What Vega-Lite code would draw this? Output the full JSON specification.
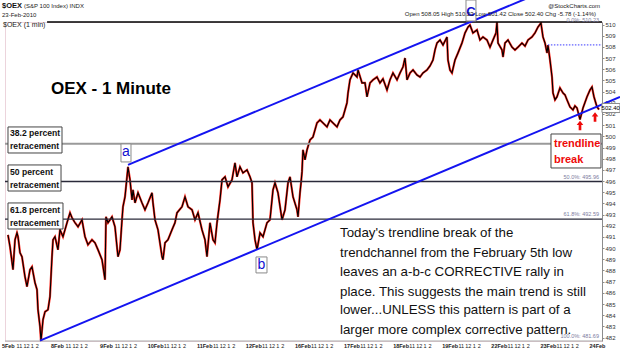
{
  "$schema": "https://vega.github.io/schema/vega-lite/v6.json",
  "width": 597,
  "height": 319,
  "autosize": "none",
  "padding": {"left": 5, "top": 22, "right": 18, "bottom": 14},
  "background": "white",
  "config": {"view": {"stroke": "#d9a9b9", "strokeDash": [1, 1]}, "font": "Liberation Sans"},
  "resolve": {"axis": {"x": "independent", "y": "independent"}},
  "datasets": {
    "oex": [
      {"t":0.004,"p":491.19},{"t":0.045,"p":490.12},{"t":0.106,"p":488.07},{"t":0.147,"p":490.75},{"t":0.187,"p":491.37},{"t":0.208,"p":491.02},{"t":0.248,"p":489.59},{"t":0.289,"p":489.23},{"t":0.350,"p":487.44},{"t":0.391,"p":486.55},{"t":0.452,"p":488.07},{"t":0.493,"p":488.33},{"t":0.554,"p":486.90},{"t":0.595,"p":486.28},{"t":0.615,"p":484.49},{"t":0.656,"p":482.97},{"t":0.676,"p":481.69},{"t":0.717,"p":483.60},{"t":0.758,"p":484.31},{"t":0.819,"p":484.49},{"t":0.859,"p":485.65},{"t":0.900,"p":489.23},{"t":0.921,"p":490.75},{"t":0.961,"p":491.02},
      {"t":1.022,"p":489.85},{"t":1.063,"p":491.64},{"t":1.124,"p":491.02},{"t":1.206,"p":492.27},{"t":1.267,"p":493.16},{"t":1.308,"p":492.71},{"t":1.369,"p":492.27},{"t":1.430,"p":491.91},{"t":1.511,"p":492.53},{"t":1.572,"p":491.02},{"t":1.633,"p":490.30},{"t":1.715,"p":490.75},{"t":1.776,"p":490.48},{"t":1.837,"p":489.85},{"t":1.919,"p":488.96},{"t":1.980,"p":487.17},
      {"t":2.000,"p":492.80},{"t":2.041,"p":492.27},{"t":2.122,"p":492.80},{"t":2.183,"p":491.91},{"t":2.244,"p":489.23},{"t":2.285,"p":489.85},{"t":2.326,"p":492.53},{"t":2.346,"p":493.70},{"t":2.387,"p":494.59},{"t":2.428,"p":496.38},{"t":2.448,"p":497.27},{"t":2.489,"p":496.11},{"t":2.530,"p":494.32},{"t":2.550,"p":495.21},{"t":2.591,"p":494.05},{"t":2.652,"p":494.95},{"t":2.733,"p":494.05},{"t":2.794,"p":493.43},{"t":2.855,"p":494.05},{"t":2.937,"p":494.95},{"t":2.957,"p":494.05},
      {"t":2.998,"p":492.53},{"t":3.059,"p":491.64},{"t":3.141,"p":489.23},{"t":3.161,"p":488.96},{"t":3.202,"p":490.48},{"t":3.263,"p":490.75},{"t":3.344,"p":491.64},{"t":3.405,"p":492.27},{"t":3.446,"p":493.16},{"t":3.548,"p":493.70},{"t":3.609,"p":494.59},{"t":3.670,"p":493.70},{"t":3.752,"p":493.43},{"t":3.813,"p":492.53},{"t":3.874,"p":493.16},{"t":3.955,"p":491.64},
      {"t":4.016,"p":490.75},{"t":4.057,"p":489.23},{"t":4.118,"p":492.27},{"t":4.179,"p":490.75},{"t":4.220,"p":490.48},{"t":4.261,"p":492.27},{"t":4.322,"p":494.32},{"t":4.363,"p":496.11},{"t":4.424,"p":496.38},{"t":4.485,"p":495.48},{"t":4.566,"p":496.11},{"t":4.627,"p":497.63},{"t":4.668,"p":496.38},{"t":4.729,"p":497.27},{"t":4.790,"p":496.73},{"t":4.872,"p":497.00},{"t":4.933,"p":496.38},{"t":4.974,"p":495.84},
      {"t":4.994,"p":492.27},{"t":5.035,"p":490.75},{"t":5.076,"p":489.85},{"t":5.137,"p":491.37},{"t":5.198,"p":491.02},{"t":5.279,"p":492.27},{"t":5.340,"p":492.53},{"t":5.401,"p":495.21},{"t":5.442,"p":495.84},{"t":5.503,"p":494.95},{"t":5.585,"p":492.53},{"t":5.646,"p":493.43},{"t":5.707,"p":495.84},{"t":5.748,"p":496.38},{"t":5.809,"p":494.59},{"t":5.890,"p":493.43},{"t":5.911,"p":492.80},{"t":5.951,"p":494.95},{"t":5.972,"p":495.84},
      {"t":5.992,"p":496.82},{"t":6.012,"p":498.79},{"t":6.053,"p":497.90},{"t":6.094,"p":498.79},{"t":6.155,"p":499.68},{"t":6.216,"p":499.95},{"t":6.297,"p":501.20},{"t":6.358,"p":501.47},{"t":6.420,"p":501.20},{"t":6.501,"p":500.85},{"t":6.562,"p":501.47},{"t":6.623,"p":501.20},{"t":6.705,"p":500.85},{"t":6.766,"p":501.47},{"t":6.827,"p":501.74},{"t":6.908,"p":502.99},{"t":6.929,"p":503.88},
      {"t":6.969,"p":505.05},{"t":7.031,"p":505.67},{"t":7.112,"p":505.31},{"t":7.133,"p":505.94},{"t":7.214,"p":504.78},{"t":7.275,"p":504.78},{"t":7.316,"p":503.53},{"t":7.377,"p":504.78},{"t":7.438,"p":505.05},{"t":7.519,"p":505.31},{"t":7.580,"p":504.78},{"t":7.641,"p":505.14},{"t":7.723,"p":504.15},{"t":7.784,"p":505.05},{"t":7.845,"p":505.67},{"t":7.927,"p":505.05},
      {"t":7.988,"p":505.67},{"t":8.049,"p":506.21},{"t":8.090,"p":507.01},{"t":8.131,"p":505.05},{"t":8.192,"p":505.67},{"t":8.253,"p":505.94},{"t":8.334,"p":505.49},{"t":8.395,"p":505.31},{"t":8.456,"p":505.67},{"t":8.538,"p":505.94},{"t":8.599,"p":506.30},{"t":8.660,"p":506.83},{"t":8.701,"p":507.73},{"t":8.741,"p":508.35},{"t":8.803,"p":508.62},{"t":8.864,"p":508.17},{"t":8.945,"p":508.89},
      {"t":8.965,"p":506.83},{"t":9.006,"p":505.94},{"t":9.047,"p":505.67},{"t":9.108,"p":506.83},{"t":9.169,"p":507.46},{"t":9.250,"p":508.35},{"t":9.312,"p":509.25},{"t":9.373,"p":509.78},{"t":9.413,"p":509.96},{"t":9.474,"p":509.25},{"t":9.556,"p":509.52},{"t":9.617,"p":508.62},{"t":9.678,"p":508.89},{"t":9.760,"p":508.62},{"t":9.821,"p":507.98},{"t":9.882,"p":508.62},{"t":9.943,"p":509.25},{"t":9.963,"p":510.23},
      {"t":9.984,"p":508.35},{"t":10.065,"p":507.73},{"t":10.086,"p":507.10},{"t":10.126,"p":508.35},{"t":10.187,"p":508.62},{"t":10.269,"p":507.98},{"t":10.330,"p":507.73},{"t":10.391,"p":507.98},{"t":10.472,"p":508.35},{"t":10.534,"p":508.08},{"t":10.595,"p":508.62},{"t":10.676,"p":508.89},{"t":10.737,"p":509.25},{"t":10.798,"p":509.78},{"t":10.859,"p":510.14},{"t":10.900,"p":508.89},{"t":10.941,"p":508.35},{"t":10.982,"p":507.46},{"t":11.002,"p":508.17},
      {"t":11.043,"p":506.83},{"t":11.084,"p":505.31},{"t":11.104,"p":503.88},{"t":11.145,"p":503.26},{"t":11.185,"p":503.53},{"t":11.246,"p":504.33},{"t":11.308,"p":503.88},{"t":11.348,"p":503.71},{"t":11.389,"p":503.26},{"t":11.450,"p":502.63},{"t":11.511,"p":502.37},{"t":11.552,"p":502.72},{"t":11.593,"p":502.54},{"t":11.654,"p":501.50},{"t":11.715,"p":502.54},{"t":11.796,"p":503.53},{"t":11.857,"p":504.15},{"t":11.898,"p":504.42},{"t":11.939,"p":503.53},{"t":12.000,"p":502.63},{"t":12.041,"p":502.40}
    ]
  },
  "layer": [
    {
      "data": {"name": "oex"},
      "mark": {"type": "line", "color": "#ff2a1e", "strokeWidth": 2.2, "clip": true},
      "encoding": {
        "x": {"field": "t", "type": "quantitative", "scale": {"domain": [-0.057, 12.102], "nice": false, "zero": false},
          "axis": {
            "orient": "bottom", "title": null, "domain": false, "ticks": false, "grid": false,
            "values": [0,0.225,0.37,0.49,0.59,1,1.225,1.37,1.49,1.59,2,2.225,2.37,2.49,2.59,3,3.225,3.37,3.49,3.59,4,4.225,4.37,4.49,4.59,5,5.225,5.37,5.49,5.59,6,6.225,6.37,6.49,6.59,7,7.225,7.37,7.49,7.59,8,8.225,8.37,8.49,8.59,9,9.225,9.37,9.49,9.59,10,10.225,10.37,10.49,10.59,11,11.225,11.37,11.49,11.59,12],
            "labelExpr": "abs(datum.value - round(datum.value)) < 0.02 ? ['5Feb','8Feb','9Feb','10Feb','11Feb','12Feb','16Feb','17Feb','18Feb','19Feb','22Feb','23Feb','24Feb'][round(datum.value)] : ((datum.value - floor(datum.value)) < 0.3 ? '11' : ((datum.value - floor(datum.value)) < 0.42 ? '12' : ((datum.value - floor(datum.value)) < 0.53 ? '1' : '2')))",
            "labelFontWeight": {"condition": {"test": "abs(datum.value - round(datum.value)) < 0.02", "value": "bold"}, "value": "normal"},
            "labelFontSize": 5.5, "labelColor": "#222222", "labelPadding": 2, "labelOverlap": false, "labelFlush": false, "labelBound": false
          }
        },
        "y": {"field": "p", "type": "quantitative", "scale": {"domain": [481.69, 510.23], "nice": false, "zero": false},
          "axis": {
            "orient": "right", "title": null, "grid": false,
            "values": [482,483,484,485,486,487,488,489,490,491,492,493,494,495,496,497,498,499,500,501,502,503,504,505,506,507,508,509,510],
            "format": "d", "domainColor": "#8c8c8c", "tickColor": "#8c8c8c", "tickSize": 2,
            "labelFontSize": 6, "labelColor": "#333333", "labelPadding": 1,
            "labelOverlap": false, "labelFlush": false, "labelBound": false
          }
        }
      }
    },
    {
      "data": {"name": "oex"},
      "mark": {"type": "line", "color": "#000000", "strokeWidth": 1.1, "clip": true},
      "encoding": {
        "x": {"field": "t", "type": "quantitative", "scale": {"domain": [-0.057, 12.102], "nice": false, "zero": false}, "axis": null},
        "y": {"field": "p", "type": "quantitative", "scale": {"domain": [481.69, 510.23], "nice": false, "zero": false}, "axis": null}
      }
    },
    {
      "data": {"values": [{"level":"38.2%","p":499.33},{"level":"50.0%","p":495.96},{"level":"61.8%","p":492.59},{"level":"100.0%","p":481.69}]},
      "mark": {"type": "rule"},
      "encoding": {
        "y": {"field": "p", "type": "quantitative", "scale": {"domain": [481.69, 510.23], "nice": false, "zero": false}, "axis": null},
        "color": {"field": "level", "type": "nominal", "scale": {"domain": ["38.2%","50.0%","61.8%","100.0%"], "range": ["#9a9a9a","#2a2a3a","#2a2a3a","#a8a8a8"]}, "legend": null},
        "strokeWidth": {"field": "level", "type": "nominal", "scale": {"domain": ["38.2%","50.0%","61.8%","100.0%"], "range": [2, 1, 1, 2.5]}, "legend": null}
      }
    },
    {
      "data": {"values": [{"level":"0.0%","p":510.23}]},
      "mark": {"type": "rule", "color": "#000000", "strokeWidth": 1.5},
      "encoding": {
        "x": {"datum": 0.8, "type": "quantitative", "scale": {"domain": [-0.057, 12.102], "nice": false, "zero": false}, "axis": null},
        "x2": {"datum": 12.102},
        "y": {"field": "p", "type": "quantitative", "scale": {"domain": [481.69, 510.23], "nice": false, "zero": false}, "axis": null}
      }
    },
    {
      "data": {"values": [{"what":"previous close","p":508.18}]},
      "mark": {"type": "rule", "color": "#3a3aff", "strokeWidth": 1, "strokeDash": [1.5, 1.5]},
      "encoding": {
        "x": {"datum": 11.0, "type": "quantitative", "scale": {"domain": [-0.057, 12.102], "nice": false, "zero": false}, "axis": null},
        "x2": {"datum": 12.102},
        "y": {"field": "p", "type": "quantitative", "scale": {"domain": [481.69, 510.23], "nice": false, "zero": false}, "axis": null}
      }
    },
    {
      "data": {"values": [
        {"line":"lower","t":0.656,"p":481.72},{"line":"lower","t":12.469,"p":503.53},
        {"line":"upper","t":2.448,"p":497.45},{"line":"upper","t":10.635,"p":512.46}
      ]},
      "mark": {"type": "line", "color": "#1414f0", "strokeWidth": 2},
      "encoding": {
        "x": {"field": "t", "type": "quantitative", "scale": {"domain": [-0.057, 12.102], "nice": false, "zero": false}, "axis": null},
        "y": {"field": "p", "type": "quantitative", "scale": {"domain": [481.69, 510.23], "nice": false, "zero": false}, "axis": null},
        "detail": {"field": "line"}
      }
    },
    {
      "data": {"values": [
        {"box":"38.2","t1":0.004,"t2":1.104,"p1":500.84,"p2":498.51},
        {"box":"50","t1":0.004,"t2":1.084,"p1":497.44,"p2":495.11},
        {"box":"61.8","t1":0.004,"t2":1.124,"p1":494.04,"p2":491.71},
        {"box":"trendline break","t1":11.063,"t2":12.081,"p1":500.21,"p2":497.17}
      ]},
      "mark": {"type": "rect", "fill": "white", "stroke": "#444444", "strokeWidth": 1},
      "encoding": {
        "x": {"field": "t1", "type": "quantitative", "scale": {"domain": [-0.057, 12.102], "nice": false, "zero": false}, "axis": null},
        "x2": {"field": "t2"},
        "y": {"field": "p1", "type": "quantitative", "scale": {"domain": [481.69, 510.23], "nice": false, "zero": false}, "axis": null},
        "y2": {"field": "p2"}
      }
    },
    {
      "data": {"values": [
        {"box":"a","t1":2.305,"t2":2.509,"p1":499.32,"p2":497.71},
        {"box":"b","t1":5.055,"t2":5.279,"p1":489.21,"p2":487.78},
        {"box":"C","t1":9.332,"t2":9.535,"p1":512.2,"p2":510.32},
        {"box":"502.40","t1":12.102,"t2":12.468,"p1":502.94,"p2":502.13}
      ]},
      "mark": {"type": "rect", "fill": "white", "stroke": "#8a8a8a", "strokeWidth": 1},
      "encoding": {
        "x": {"field": "t1", "type": "quantitative", "scale": {"domain": [-0.057, 12.102], "nice": false, "zero": false}, "axis": null},
        "x2": {"field": "t2"},
        "y": {"field": "p1", "type": "quantitative", "scale": {"domain": [481.69, 510.23], "nice": false, "zero": false}, "axis": null},
        "y2": {"field": "p2"}
      }
    },
    {
      "data": {"values": [
        {"t":0.045,"p":500.30,"label":"38.2 percent"},{"t":0.045,"p":499.14,"label":"retracement"},
        {"t":0.045,"p":496.81,"label":"50 percent"},{"t":0.045,"p":495.65,"label":"retracement"},
        {"t":0.045,"p":493.41,"label":"61.8 percent"},{"t":0.045,"p":492.25,"label":"retracement"}
      ]},
      "mark": {"type": "text", "align": "left", "baseline": "middle", "fontSize": 8.6, "fontWeight": "bold", "color": "#111111"},
      "encoding": {
        "x": {"field": "t", "type": "quantitative", "scale": {"domain": [-0.057, 12.102], "nice": false, "zero": false}, "axis": null},
        "y": {"field": "p", "type": "quantitative", "scale": {"domain": [481.69, 510.23], "nice": false, "zero": false}, "axis": null},
        "text": {"field": "label"}
      }
    },
    {
      "data": {"values": [{"t":2.407,"p":498.60,"label":"a"},{"t":5.163,"p":488.50,"label":"b"}]},
      "mark": {"type": "text", "align": "center", "baseline": "middle", "fontSize": 14, "color": "#1010d0"},
      "encoding": {
        "x": {"field": "t", "type": "quantitative", "scale": {"domain": [-0.057, 12.102], "nice": false, "zero": false}, "axis": null},
        "y": {"field": "p", "type": "quantitative", "scale": {"domain": [481.69, 510.23], "nice": false, "zero": false}, "axis": null},
        "text": {"field": "label"}
      }
    },
    {
      "data": {"values": [{"t":9.433,"p":511.12,"label":"C"}]},
      "mark": {"type": "text", "align": "center", "baseline": "middle", "fontSize": 13, "fontWeight": "bold", "color": "#1010d0"},
      "encoding": {
        "x": {"field": "t", "type": "quantitative", "scale": {"domain": [-0.057, 12.102], "nice": false, "zero": false}, "axis": null},
        "y": {"field": "p", "type": "quantitative", "scale": {"domain": [481.69, 510.23], "nice": false, "zero": false}, "axis": null},
        "text": {"field": "label"}
      }
    },
    {
      "data": {"values": [{"t":2.10,"p":504.24,"label":"OEX - 1 Minute"}]},
      "mark": {"type": "text", "align": "center", "baseline": "middle", "fontSize": 17, "fontWeight": "bold", "color": "#000000"},
      "encoding": {
        "x": {"field": "t", "type": "quantitative", "scale": {"domain": [-0.057, 12.102], "nice": false, "zero": false}, "axis": null},
        "y": {"field": "p", "type": "quantitative", "scale": {"domain": [481.69, 510.23], "nice": false, "zero": false}, "axis": null},
        "text": {"field": "label"}
      }
    },
    {
      "data": {"values": [
        {"t":6.766,"p":491.36,"label":"Today's trendline break of the"},
        {"t":6.766,"p":489.57,"label":"trendchannel from the February 5th low"},
        {"t":6.766,"p":487.87,"label":"leaves an a-b-c CORRECTIVE rally in"},
        {"t":6.766,"p":486.08,"label":"place.  This suggests the main trend is still"},
        {"t":6.766,"p":484.47,"label":"lower...UNLESS this pattern is part of a"},
        {"t":6.766,"p":482.68,"label":"larger more complex corrective pattern."}
      ]},
      "mark": {"type": "text", "align": "left", "baseline": "middle", "fontSize": 13.3, "color": "#111111"},
      "encoding": {
        "x": {"field": "t", "type": "quantitative", "scale": {"domain": [-0.057, 12.102], "nice": false, "zero": false}, "axis": null},
        "y": {"field": "p", "type": "quantitative", "scale": {"domain": [481.69, 510.23], "nice": false, "zero": false}, "axis": null},
        "text": {"field": "label"}
      }
    },
    {
      "data": {"values": [{"t":11.124,"p":499.32,"label":"trendline"},{"t":11.124,"p":497.89,"label":"break"}]},
      "mark": {"type": "text", "align": "left", "baseline": "middle", "fontSize": 11, "fontWeight": "bold", "color": "#ee0a0a"},
      "encoding": {
        "x": {"field": "t", "type": "quantitative", "scale": {"domain": [-0.057, 12.102], "nice": false, "zero": false}, "axis": null},
        "y": {"field": "p", "type": "quantitative", "scale": {"domain": [481.69, 510.23], "nice": false, "zero": false}, "axis": null},
        "text": {"field": "label"}
      }
    },
    {
      "data": {"values": [{"t":11.654,"p":500.98},{"t":11.96,"p":501.74}]},
      "mark": {"type": "point", "shape": "M0,-1L0.7,-0.1L0.28,-0.1L0.28,1L-0.28,1L-0.28,-0.1L-0.7,-0.1Z", "size": 90, "filled": true, "color": "#ee0a0a", "opacity": 1},
      "encoding": {
        "x": {"field": "t", "type": "quantitative", "scale": {"domain": [-0.057, 12.102], "nice": false, "zero": false}, "axis": null},
        "y": {"field": "p", "type": "quantitative", "scale": {"domain": [481.69, 510.23], "nice": false, "zero": false}, "axis": null}
      }
    },
    {
      "data": {"values": [
        {"t":12.041,"p":510.40,"label":"0.0%: 510.23"},
        {"t":12.041,"p":496.37,"label":"50.0%: 495.96"},
        {"t":12.041,"p":493.06,"label":"61.8%: 492.59"},
        {"t":12.041,"p":482.14,"label":"100.0%: 481.69"}
      ]},
      "mark": {"type": "text", "align": "right", "baseline": "middle", "fontSize": 5.5, "color": "#7c7ca0"},
      "encoding": {
        "x": {"field": "t", "type": "quantitative", "scale": {"domain": [-0.057, 12.102], "nice": false, "zero": false}, "axis": null},
        "y": {"field": "p", "type": "quantitative", "scale": {"domain": [481.69, 510.23], "nice": false, "zero": false}, "axis": null},
        "text": {"field": "label"}
      }
    },
    {
      "data": {"values": [{"t":-0.118,"p":511.70,"label":"$OEX"}]},
      "mark": {"type": "text", "align": "left", "baseline": "middle", "fontSize": 7.5, "fontWeight": "bold", "color": "#111111"},
      "encoding": {
        "x": {"field": "t", "type": "quantitative", "scale": {"domain": [-0.057, 12.102], "nice": false, "zero": false}, "axis": null},
        "y": {"field": "p", "type": "quantitative", "scale": {"domain": [481.69, 510.23], "nice": false, "zero": false}, "axis": null},
        "text": {"field": "label"}
      }
    },
    {
      "data": {"values": [
        {"t":0.33,"p":511.66,"label":"(S&P 100 Index) INDX"},
        {"t":-0.118,"p":510.86,"label":"23-Feb-2010"}
      ]},
      "mark": {"type": "text", "align": "left", "baseline": "middle", "fontSize": 6, "color": "#222222"},
      "encoding": {
        "x": {"field": "t", "type": "quantitative", "scale": {"domain": [-0.057, 12.102], "nice": false, "zero": false}, "axis": null},
        "y": {"field": "p", "type": "quantitative", "scale": {"domain": [481.69, 510.23], "nice": false, "zero": false}, "axis": null},
        "text": {"field": "label"}
      }
    },
    {
      "data": {"values": [{"t":-0.097,"p":509.95,"label":"$OEX (1 min)"}]},
      "mark": {"type": "text", "align": "left", "baseline": "middle", "fontSize": 7, "color": "#222222"},
      "encoding": {
        "x": {"field": "t", "type": "quantitative", "scale": {"domain": [-0.057, 12.102], "nice": false, "zero": false}, "axis": null},
        "y": {"field": "p", "type": "quantitative", "scale": {"domain": [481.69, 510.23], "nice": false, "zero": false}, "axis": null},
        "text": {"field": "label"}
      }
    },
    {
      "data": {"values": [
        {"t":12.061,"p":511.66,"label":"@StockCharts.com"},
        {"t":11.98,"p":510.92,"label":"Open 508.05 High 510.23 Low 501.42 Close 502.40 Chg -5.78 (-1.14%)"}
      ]},
      "mark": {"type": "text", "align": "right", "baseline": "middle", "fontSize": 6, "color": "#222222"},
      "encoding": {
        "x": {"field": "t", "type": "quantitative", "scale": {"domain": [-0.057, 12.102], "nice": false, "zero": false}, "axis": null},
        "y": {"field": "p", "type": "quantitative", "scale": {"domain": [481.69, 510.23], "nice": false, "zero": false}, "axis": null},
        "text": {"field": "label"}
      }
    },
    {
      "data": {"values": [{"t":12.28,"p":502.54,"label":"502.40"}]},
      "mark": {"type": "text", "align": "center", "baseline": "middle", "fontSize": 6, "color": "#000000"},
      "encoding": {
        "x": {"field": "t", "type": "quantitative", "scale": {"domain": [-0.057, 12.102], "nice": false, "zero": false}, "axis": null},
        "y": {"field": "p", "type": "quantitative", "scale": {"domain": [481.69, 510.23], "nice": false, "zero": false}, "axis": null},
        "text": {"field": "label"}
      }
    }
  ]
}
